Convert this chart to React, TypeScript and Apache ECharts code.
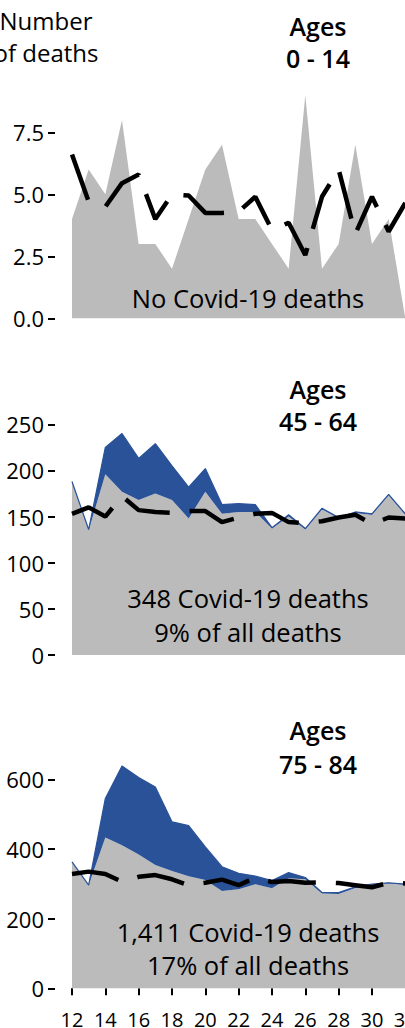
import React, { useEffect, useRef } from "react";
import * as echarts from "echarts";

const weeks = ["12","13","14","15","16","17","18","19","20","21","22","23","24","25","26","27","28","29","30","31","32"];

// Ages 0 - 14
const total0 = [4, 6, 5, 8, 3, 3, 2, 4, 6, 7, 4, 4, 3, 2, 9, 2, 3, 7, 3, 4, 0];
const avg0 = [6.6, 4.7, 4.5, 5.45, 5.8, 4.0, 5.0, 4.95, 4.25, 4.25, 4.3, 4.9, 3.56, 3.85, 2.55, 4.9, 6.0, 3.4, 4.9, 3.5, 4.65];

// Ages 45 - 64
const nonCovid45 = [188, 135, 196, 177, 168, 175, 168, 148, 177, 153, 155, 155, 137, 150, 136, 158, 148, 154, 152, 173, 152];
const covid45 = [0, 1, 29, 63, 45, 54, 37, 34, 25, 10, 9, 8, 1, 2, 1, 1, 1, 1, 1, 1, 1];
const avg45 = [153, 160, 150, 172, 157, 155, 154, 156, 156, 144, 149, 153, 154, 144, 143, 145, 149, 152, 142, 149, 148];

// Ages 75 - 84
const nonCovid75 = [363, 296, 433, 411, 384, 354, 337, 322, 311, 279, 284, 299, 287, 316, 313, 272, 271, 288, 297, 301, 297];
const covid75 = [0, 0, 112, 227, 221, 224, 141, 145, 95, 70, 46, 23, 22, 16, 5, 3, 4, 3, 2, 2, 2];
const avg75 = [328, 335, 328, 306, 320, 325, 313, 296, 303, 312, 296, 318, 305, 308, 303, 304, 302, 296, 290, 303, 301];

const yTicks0 = { max: 7.5, interval: 2.5 };
const yTicks45 = { max: 250, interval: 50 };
const yTicks75 = { max: 600, interval: 200 };

const GRAY = "#bbbbbb";
const BLUE = "#2a5298";
const FONT = "'Open Sans', 'Noto Sans', sans-serif";

function textEl(text: string, x: number, baseline: number, size: number, weight: string | number = "normal") {
  return {
    type: "text",
    x,
    y: baseline - 0.388 * size,
    z: 100,
    silent: true,
    style: {
      text,
      fill: "#000",
      fontSize: size,
      fontFamily: FONT,
      fontWeight: weight,
      align: "center",
      verticalAlign: "middle",
    },
  };
}

export default function App() {
  const ref = useRef<HTMLDivElement>(null);
  useEffect(() => {
    if (!ref.current) return;
    const chart = echarts.init(ref.current, undefined, { renderer: "svg" });

    const grids = [
      { left: 72, width: 333.3, top: 132.3, height: 186, outerBoundsMode: "none", containLabel: false },
      { left: 72, width: 333.3, top: 424.3, height: 230.7, outerBoundsMode: "none", containLabel: false },
      { left: 72, width: 333.3, top: 779.3, height: 209, outerBoundsMode: "none", containLabel: false },
    ];

    const xAxes = grids.map((_, i) => ({
      type: "category",
      gridIndex: i,
      data: weeks,
      boundaryGap: false,
      show: i === 2,
      position: "bottom",
      offset: 12,
      axisLine: { show: false },
      axisTick: { show: true, length: 7, interval: 1, lineStyle: { color: "#000", width: 2 } },
      axisLabel: { interval: 1, margin: 9.5, fontSize: 20, color: "#000", fontFamily: FONT, hideOverlap: false },
      splitLine: { show: false },
    }));

    const yCfg = [yTicks0, yTicks45, yTicks75];
    const yAxes = yCfg.map((c, i) => ({
      type: "value",
      gridIndex: i,
      min: 0,
      max: c.max,
      interval: c.interval,
      offset: 17,
      axisLine: { show: false },
      axisTick: { show: true, length: 7, lineStyle: { color: "#000", width: 2 } },
      axisLabel: {
        margin: 11,
        fontSize: 22,
        color: "#000",
        fontFamily: FONT,
        formatter: i === 0 ? (v: number) => v.toFixed(1) : (v: number) => String(v),
      },
      splitLine: { show: false },
    }));

    const dash = (data: number[], i: number) => ({
      type: "line",
      xAxisIndex: i,
      yAxisIndex: i,
      data,
      symbol: "none",
      clip: false,
      z: 5,
      lineStyle: { color: "#000", width: 4.5, type: [48, 20], cap: "butt" },
    });
    const grayArea = (data: number[], i: number) => ({
      type: "line",
      xAxisIndex: i,
      yAxisIndex: i,
      data,
      stack: "s" + i,
      symbol: "none",
      clip: false,
      z: 2,
      lineStyle: { width: 0 },
      areaStyle: { color: GRAY, opacity: 1 },
    });
    const blueArea = (data: number[], i: number) => ({
      type: "line",
      xAxisIndex: i,
      yAxisIndex: i,
      data,
      stack: "s" + i,
      symbol: "none",
      clip: false,
      z: 3,
      lineStyle: { width: 1.2, color: BLUE },
      areaStyle: { color: BLUE, opacity: 1 },
    });

    chart.setOption({
      animation: false,
      backgroundColor: "#fff",
      grid: grids,
      xAxis: xAxes,
      yAxis: yAxes,
      series: [
        grayArea(total0, 0),
        dash(avg0, 0),
        grayArea(nonCovid45, 1),
        blueArea(covid45, 1),
        dash(avg45, 1),
        grayArea(nonCovid75, 2),
        blueArea(covid75, 2),
        dash(avg75, 2),
      ],
      graphic: {
        elements: [
          textEl("Number", 46, 29.5, 24),
          textEl("of deaths", 46, 62, 24),
          textEl("Ages", 318, 36, 25, 600),
          textEl("0 - 14", 318, 68, 25, 600),
          textEl("No Covid-19 deaths", 248, 308.3, 25.5),
          textEl("Ages", 318, 398.3, 25, 600),
          textEl("45 - 64", 318, 431, 25, 600),
          textEl("348 Covid-19 deaths", 248, 608.3, 25.5),
          textEl("9% of all deaths", 248, 641.7, 25.5),
          textEl("Ages", 318, 740, 25, 600),
          textEl("75 - 84", 318, 773.3, 25, 600),
          textEl("1,411 Covid-19 deaths", 248, 941.7, 25.5),
          textEl("17% of all deaths", 248, 975, 25.5),
        ],
      },
    });
    return () => chart.dispose();
  }, []);

  return (
    <div
      ref={ref}
      style={{ position: "fixed", left: 0, top: 0, width: 405, height: 1028, background: "#fff" }}
    />
  );
}
